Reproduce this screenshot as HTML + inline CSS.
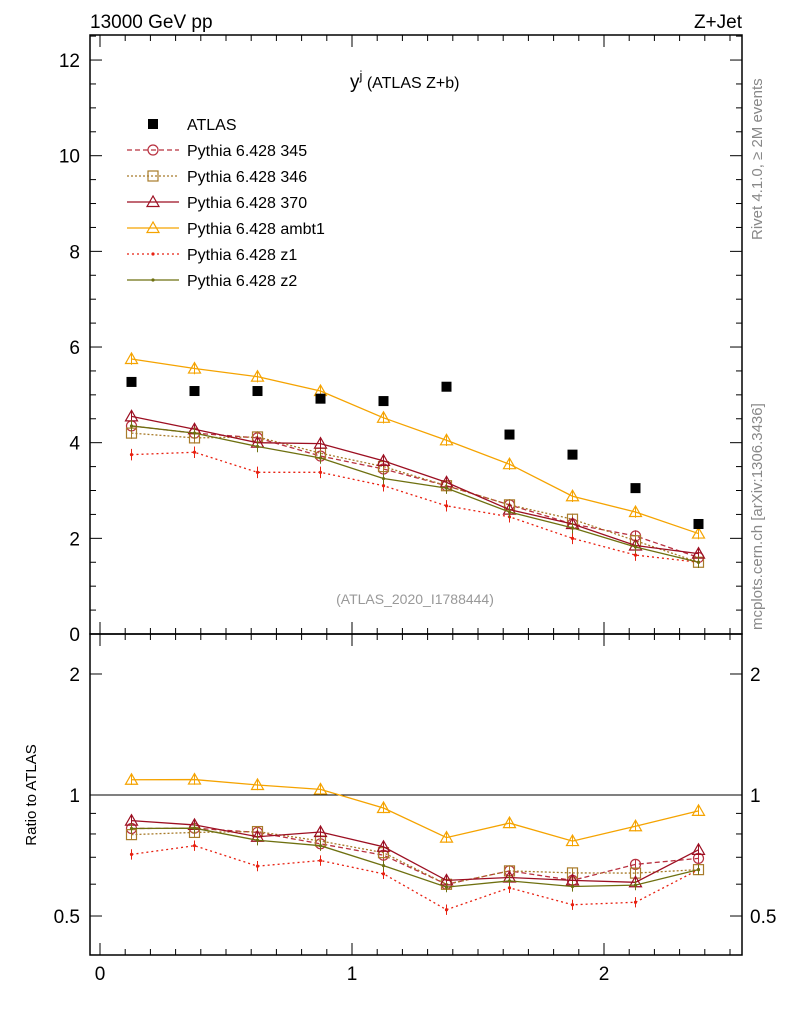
<!DOCTYPE html>
<html><head><meta charset="utf-8"><style>
body{margin:0;background:#fff;}
svg{font-family:"Liberation Sans",sans-serif;}
</style></head><body>
<svg id="c" width="786" height="1024" viewBox="0 0 786 1024">
<text x="90" y="28" font-size="19">13000 GeV pp</text>
<text x="742" y="28" font-size="19" text-anchor="end">Z+Jet</text>
<text x="350" y="88" font-size="19">y<tspan dy="-8" font-size="13">j</tspan><tspan dy="8" font-size="16"> (ATLAS Z+b)</tspan></text>
<text x="415" y="604" font-size="14" fill="#999" text-anchor="middle">(ATLAS_2020_I1788444)</text>
<text transform="translate(762,240) rotate(-90)" font-size="15" fill="#888">Rivet 4.1.0, ≥ 2M events</text>
<text transform="translate(762,630) rotate(-90)" font-size="15" fill="#888">mcplots.cern.ch [arXiv:1306.3436]</text>
<text transform="translate(36,795) rotate(-90)" font-size="15" text-anchor="middle">Ratio to ATLAS</text>
<g id="g"></g>
</svg>
<script>
const bins=[0.125,0.375,0.625,0.875,1.125,1.375,1.625,1.875,2.125,2.375];
const atlas=[5.27,5.08,5.08,4.92,4.87,5.17,4.17,3.75,3.05,2.30];
const p345=[4.35,4.2,4.1,3.72,3.45,3.1,2.7,2.3,2.05,1.6];
const p346=[4.2,4.1,4.12,3.78,3.5,3.1,2.7,2.4,1.95,1.5];
const p370=[4.55,4.28,4.0,3.98,3.62,3.17,2.6,2.3,1.85,1.68];
const ambt1=[5.75,5.55,5.38,5.08,4.52,4.05,3.55,2.88,2.55,2.10];
const z1=[3.75,3.8,3.38,3.38,3.1,2.68,2.45,2.0,1.65,1.5];
const z2=[4.35,4.2,3.92,3.68,3.25,3.05,2.55,2.22,1.82,1.5];
const mainTicks=[0,2,4,6,8,10,12];
const ratioTicks=[0.5,1,2];
const xTicks=[0,1,2];
const NS="http://www.w3.org/2000/svg";
const G=document.getElementById('g');
function el(t,a,p){const e=document.createElementNS(NS,t);for(const k in a)e.setAttribute(k,a[k]);(p||G).appendChild(e);return e;}
const L=90,R=742,T=35,M=634,B=955;
const X=v=>100+v*252;
const Y=v=>634-v*47.83;
const YR=v=>795-Math.log10(v)*402;
// frames
let f=el('rect',{x:L,y:T,width:R-L,height:M-T,fill:'none',stroke:'#000','stroke-width':1.5});


f=el('rect',{x:L,y:M,width:R-L,height:B-M,fill:'none',stroke:'#000','stroke-width':1.5});


// x ticks
for(let i=0;i<=25;i++){const v=i/10,x=X(v),maj=(i%10==0),l=maj?12:6;
 for(const [y0,d] of [[T,1],[M,-1],[M,1],[B,-1]]) el('line',{x1:x,x2:x,y1:y0,y2:y0+d*l,stroke:'#000'});}
xTicks.forEach(v=>{const t=el('text',{x:X(v),y:980,'font-size':19,'text-anchor':'middle'});t.textContent=v;

});
// main y ticks
for(let i=0;i<=25;i++){const v=i/2,y=Y(v);if(y<T)continue;const l=(i%4==0)?12:6;
 el('line',{x1:L,x2:L+l,y1:y,y2:y,stroke:'#000'});el('line',{x1:R,x2:R-l,y1:y,y2:y,stroke:'#000'});}
mainTicks.forEach(v=>{const t=el('text',{x:80,y:Y(v)+7,'font-size':19,'text-anchor':'end'});t.textContent=v;

});
// ratio ticks
[0.4,0.5,0.6,0.7,0.8,0.9,1,2].forEach(v=>{const y=YR(v),l=ratioTicks.includes(v)?12:6;
 el('line',{x1:L,x2:L+l,y1:y,y2:y,stroke:'#000'});el('line',{x1:R,x2:R-l,y1:y,y2:y,stroke:'#000'});});
ratioTicks.forEach(v=>{for(const [x,a] of [[80,'end'],[750,'start']]){const t=el('text',{x:x,y:YR(v)+7,'font-size':19,'text-anchor':a});t.textContent=v;

}});
el('line',{x1:L,x2:R,y1:YR(1),y2:YR(1),stroke:'#000'});
// series
const series=[
 {n:'Pythia 6.428 345',d:p345,c:'#b8303f',dash:'5,3',m:'circle'},
 {n:'Pythia 6.428 346',d:p346,c:'#a87b2a',dash:'2,2',m:'square'},
 {n:'Pythia 6.428 370',d:p370,c:'#9c0f22',dash:'',m:'tri'},
 {n:'Pythia 6.428 ambt1',d:ambt1,c:'#f5a300',dash:'',m:'tri'},
 {n:'Pythia 6.428 z1',d:z1,c:'#e82010',dash:'2,3',m:'dot'},
 {n:'Pythia 6.428 z2',d:z2,c:'#6e7010',dash:'',m:'dot'}];
function marker(m,x,y,c,p){
 if(m=='circle')el('circle',{cx:x,cy:y,r:5,fill:'none',stroke:c,'stroke-width':1.2},p);
 else if(m=='square')el('rect',{x:x-5,y:y-5,width:10,height:10,fill:'none',stroke:c,'stroke-width':1.2},p);
 else if(m=='tri')el('polygon',{points:`${x},${y-6} ${x-6},${y+4.5} ${x+6},${y+4.5}`,fill:'none',stroke:c,'stroke-width':1.2},p);
 else el('circle',{cx:x,cy:y,r:1.6,fill:c},p);}
series.forEach((s,k)=>{
 const g=el('g',{});
 
 
 const pts=s.d.map((v,i)=>X(bins[i])+','+Y(v)).join(' ');
 el('polyline',{points:pts,fill:'none',stroke:s.c,'stroke-width':1.3,'stroke-dasharray':s.dash},g);
 const rp=s.d.map((v,i)=>X(bins[i])+','+YR(v/atlas[i])).join(' ');
 el('polyline',{points:rp,fill:'none',stroke:s.c,'stroke-width':1.3,'stroke-dasharray':s.dash},g);
 s.d.forEach((v,i)=>{const x=X(bins[i]);
  el('line',{x1:x,x2:x,y1:Y(v+0.12),y2:Y(v-0.12),stroke:s.c},g);marker(s.m,x,Y(v),s.c,g);
  const r=v/atlas[i];el('line',{x1:x,x2:x,y1:YR(r*1.03),y2:YR(r/1.03),stroke:s.c},g);marker(s.m,x,YR(r),s.c,g);});
 const ly=150+k*26;
 const lg=el('g',{});
 
 
 el('line',{x1:127,x2:179,y1:ly,y2:ly,stroke:s.c,'stroke-width':1.3,'stroke-dasharray':s.dash},lg);
 marker(s.m,153,ly,s.c,lg);
 const t=el('text',{x:187,y:ly+6,'font-size':16},lg);t.textContent=s.n;});
// atlas data
const ag=el('g',{});


atlas.forEach((v,i)=>el('rect',{x:X(bins[i])-5,y:Y(v)-5,width:10,height:10,fill:'#000'},ag));
const al=el('g',{});


el('rect',{x:148,y:119,width:10,height:10,fill:'#000'},al);
const at=el('text',{x:187,y:130,'font-size':16},al);at.textContent='ATLAS';
</script>
</body></html>
